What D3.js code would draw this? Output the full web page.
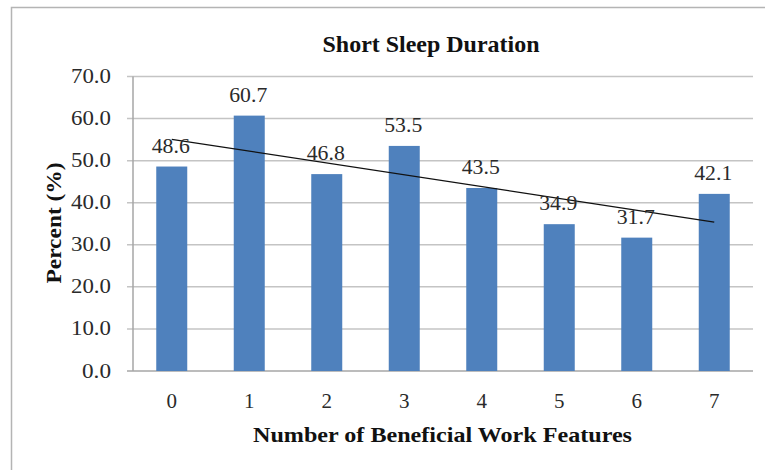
<!DOCTYPE html>
<html lang="en">
<head>
<meta charset="utf-8">
<style>
  body { margin: 0; background: #fff; }
  svg { font-family: "Liberation Serif", "Times New Roman", serif; }
</style>
<script src="https://d3js.org/d3.v7.min.js"></script>
</head>
<body>
<svg width="765" height="470"></svg>
<script>

// data
var categories = ["0", "1", "2", "3", "4", "5", "6", "7"];
var percents = [48.6, 60.7, 46.8, 53.5, 43.5, 34.9, 31.7, 42.1];
var yTicks = [0, 10, 20, 30, 40, 50, 60, 70];

var svg = d3.select("svg");

// outer chart border (cut off at right / bottom in the original)
svg.append("rect")
    .attr("x", 11.5).attr("y", 7.5)
    .attr("width", 800).attr("height", 500)
    .attr("fill", "none")
    .attr("stroke", "#b4b4b4")
    .attr("stroke-width", 1.5);

var plotLeft = 133, plotRight = 753, plotTop = 76.5, plotBottom = 371;

var x = d3.scaleBand()
    .domain(categories)
    .range([plotLeft, plotRight])
    .paddingInner(0.6)
    .paddingOuter(0.3);

var y = d3.scaleLinear()
    .domain([0, 70])
    .range([plotBottom, plotTop]);

// gridlines + left tick marks
svg.append("g").selectAll("line")
  .data(yTicks)
  .enter().append("line")
    .attr("x1", plotLeft - 6).attr("x2", plotRight)
    .attr("y1", function(d) { return y(d); })
    .attr("y2", function(d) { return y(d); })
    .attr("stroke", function(d) { return d === 0 ? "#a6a6a6" : "#c4c4c4"; })
    .attr("stroke-width", 1.5);

// y axis line
svg.append("line")
    .attr("x1", plotLeft).attr("x2", plotLeft)
    .attr("y1", y(70)).attr("y2", y(0))
    .attr("stroke", "#a6a6a6")
    .attr("stroke-width", 1.5);

// y tick labels (glyphs are a bit wide in the source image)
svg.append("g").selectAll("text")
  .data(yTicks)
  .enter().append("text")
    .attr("x", 111)
    .attr("y", function(d) { return y(d) + 6.5; })
    .attr("text-anchor", "end")
    .attr("font-size", 20)
    .attr("textLength", function(d) { return d >= 10 ? 40 : 29; })
    .attr("lengthAdjust", "spacingAndGlyphs")
    .attr("fill", "#2a2a2a")
    .text(function(d) { return d.toFixed(1); });

// bars
svg.append("g").selectAll("rect")
  .data(percents)
  .enter().append("rect")
    .attr("x", function(d, i) { return x(categories[i]); })
    .attr("y", function(d) { return y(d); })
    .attr("width", x.bandwidth())
    .attr("height", function(d) { return y(0) - y(d); })
    .attr("fill", "#4f81bd");

// linear trendline (least squares over the bars)
var n = percents.length;
var mx = d3.mean(percents, function(d, i) { return i; });
var my = d3.mean(percents);
var sxy = d3.sum(percents, function(d, i) { return (i - mx) * (d - my); });
var sxx = d3.sum(percents, function(d, i) { return (i - mx) * (i - mx); });
var slope = sxy / sxx, icpt = my - slope * mx;
var cx = function(i) { return x(categories[i]) + x.bandwidth() / 2; };

svg.append("line")
    .attr("x1", cx(0)).attr("y1", y(icpt))
    .attr("x2", cx(n - 1)).attr("y2", y(icpt + slope * (n - 1)))
    .attr("stroke", "#111")
    .attr("stroke-width", 1.3);

// value labels
svg.append("g").selectAll("text")
  .data(percents)
  .enter().append("text")
    .attr("x", function(d, i) { return cx(i) - 1; })
    .attr("y", function(d) { return y(d) - 14; })
    .attr("text-anchor", "middle")
    .attr("font-size", 20)
    .attr("textLength", 38)
    .attr("lengthAdjust", "spacingAndGlyphs")
    .attr("fill", "#2a2a2a")
    .text(function(d) { return d.toFixed(1); });

// category labels
svg.append("g").selectAll("text")
  .data(categories)
  .enter().append("text")
    .attr("x", function(d) { return x(d) + x.bandwidth() / 2; })
    .attr("y", 408)
    .attr("text-anchor", "middle")
    .attr("font-size", 21)
    .attr("fill", "#2a2a2a")
    .text(function(d) { return d; });

// titles
svg.append("text")
    .attr("x", 431).attr("y", 52)
    .attr("text-anchor", "middle")
    .attr("font-size", 22.5)
    .attr("font-weight", "bold")
    .attr("textLength", 217)
    .attr("lengthAdjust", "spacingAndGlyphs")
    .attr("fill", "#111")
    .text("Short Sleep Duration");

svg.append("text")
    .attr("x", 442.5).attr("y", 442)
    .attr("text-anchor", "middle")
    .attr("font-size", 22)
    .attr("font-weight", "bold")
    .attr("textLength", 379)
    .attr("lengthAdjust", "spacingAndGlyphs")
    .attr("fill", "#111")
    .text("Number of Beneficial Work Features");

svg.append("text")
    .attr("transform", "translate(61,223) rotate(-90)")
    .attr("text-anchor", "middle")
    .attr("font-size", 22)
    .attr("font-weight", "bold")
    .attr("textLength", 121)
    .attr("lengthAdjust", "spacingAndGlyphs")
    .attr("fill", "#111")
    .text("Percent (%)");

</script>
</body>
</html>
